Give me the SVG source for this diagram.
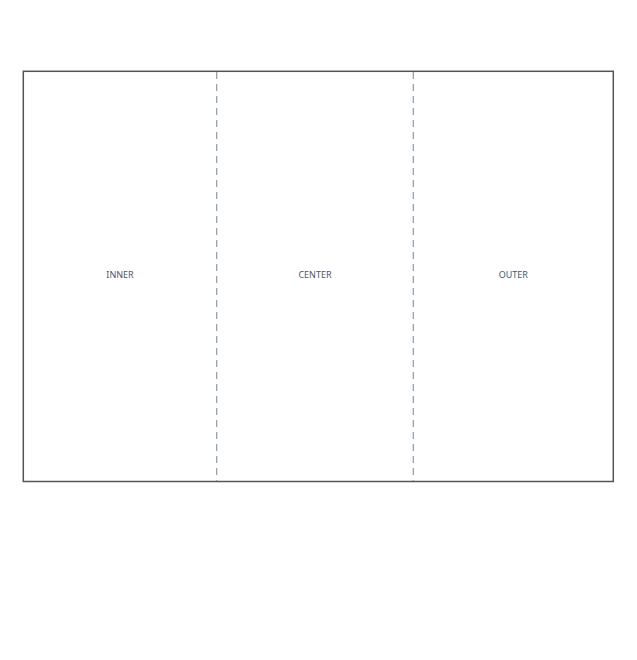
<svg xmlns="http://www.w3.org/2000/svg" width="637" height="660" viewBox="0 0 637 660">
<style>
.frame{fill:#ffffff;stroke:#555555;stroke-width:1.5}
.fold{stroke:#8a9aaa;stroke-width:1.2;stroke-dasharray:7 5;fill:none}
.lbl{font-family:"Noto Sans","Open Sans",sans-serif;font-size:9px;fill:#4a5568;text-anchor:middle;dominant-baseline:central}
</style>
<rect width="637" height="660" fill="#ffffff"/>
<g id="panel">
<rect class="frame" x="23.3" y="71.3" width="590" height="410.2"/>
</g>
<g id="connectors">
<line class="fold" x1="216.7" y1="72" x2="216.7" y2="481"/>
<line class="fold" x1="413.3" y1="72" x2="413.3" y2="481"/>
</g>
<g id="inner"><text class="lbl" x="120" y="274">INNER</text></g>
<g id="center"><text class="lbl" x="315" y="274">CENTER</text></g>
<g id="outer"><text class="lbl" x="513.3" y="274">OUTER</text></g>
</svg>
